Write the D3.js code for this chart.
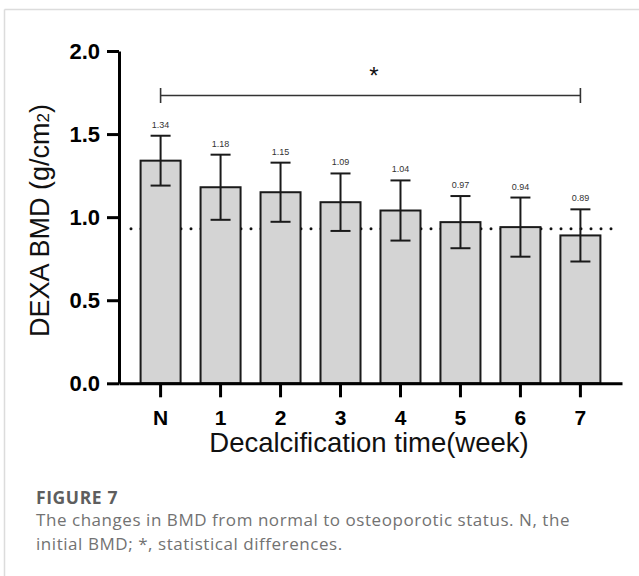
<!DOCTYPE html>
<html lang="en">
<head>
    <meta charset="UTF-8">
    <title>DEXA BMD by decalcification time</title>
    <script src="https://d3js.org/d3.v7.min.js"></script>
    <style>
        body {
            margin: 0;
            padding: 0;
            background-color: white;
        }
        svg text {
            font-family: 'Liberation Sans', Arial, sans-serif;
        }
        .caption-title {
            font-family: 'Open Sans', sans-serif !important;
            font-weight: 700;
            fill: #5e5e5e;
            letter-spacing: 0.6px;
        }
        .caption-line {
            font-family: 'Open Sans', sans-serif !important;
            fill: #727272;
            letter-spacing: 0.55px;
        }
    </style>
</head>
<body>
    <div id="chart"></div>

    <script>
        // data
        const weeks = ["N", "1", "2", "3", "4", "5", "6", "7"];
        const meanBMD = [1.34, 1.18, 1.15, 1.09, 1.04, 0.97, 0.94, 0.89];
        const sdBMD = [0.15, 0.196, 0.178, 0.173, 0.181, 0.157, 0.178, 0.157];
        const yTicks = [0, 0.5, 1.0, 1.5, 2.0];
        const thresholdBMD = 0.93; // dotted reference line
        const sigFrom = "N", sigTo = "7";

        const width = 639, height = 576;

        const svg = d3.select("#chart").append("svg")
            .attr("width", width)
            .attr("height", height);

        // light frame around the figure
        svg.append("line")
            .attr("x1", 4.5).attr("x2", width).attr("y1", 9.5).attr("y2", 9.5)
            .attr("stroke", "#dcdcdc").attr("stroke-width", 1.5);
        svg.append("line")
            .attr("x1", 4.5).attr("x2", 4.5).attr("y1", 9.5).attr("y2", height)
            .attr("stroke", "#dcdcdc").attr("stroke-width", 1.5);

        const x = d3.scaleBand()
            .domain(weeks)
            .range([119, 622])
            .paddingInner(0.333)
            .paddingOuter(0.36);

        const y = d3.scaleLinear()
            .domain([0, 2])
            .range([383.3, 51]);

        // dotted threshold line (behind the bars)
        svg.append("line")
            .attr("x1", 131).attr("x2", 612)
            .attr("y1", y(thresholdBMD)).attr("y2", y(thresholdBMD))
            .attr("stroke", "#111")
            .attr("stroke-width", 3)
            .attr("stroke-linecap", "round")
            .attr("stroke-dasharray", "0 10");

        // bars
        svg.selectAll("rect.bar")
            .data(weeks)
            .join("rect")
            .attr("class", "bar")
            .attr("x", d => x(d))
            .attr("width", x.bandwidth())
            .attr("y", (d, i) => y(meanBMD[i]))
            .attr("height", (d, i) => y(0) - y(meanBMD[i]))
            .attr("fill", "#d4d4d4")
            .attr("stroke", "#1a1a1a")
            .attr("stroke-width", 2);

        // error bars
        const capW = 20;
        const err = svg.append("g")
            .attr("stroke", "#1a1a1a")
            .attr("stroke-width", 2);
        weeks.forEach((w, i) => {
            const cx = x(w) + x.bandwidth() / 2;
            const top = y(meanBMD[i] + sdBMD[i]);
            const bot = y(meanBMD[i] - sdBMD[i]);
            err.append("line").attr("x1", cx).attr("x2", cx).attr("y1", top).attr("y2", bot);
            err.append("line").attr("x1", cx - capW / 2).attr("x2", cx + capW / 2).attr("y1", top).attr("y2", top);
            err.append("line").attr("x1", cx - capW / 2).attr("x2", cx + capW / 2).attr("y1", bot).attr("y2", bot);
        });

        // value labels above the error bars
        svg.selectAll("text.val")
            .data(weeks)
            .join("text")
            .attr("class", "val")
            .attr("x", d => x(d) + x.bandwidth() / 2)
            .attr("y", (d, i) => y(meanBMD[i] + sdBMD[i]) - 8)
            .attr("text-anchor", "middle")
            .attr("font-size", 9)
            .attr("fill", "#333")
            .text((d, i) => meanBMD[i].toFixed(2));

        // x axis
        const xAxis = svg.append("g")
            .attr("transform", `translate(0,${y(0)})`)
            .call(d3.axisBottom(x).tickSize(14).tickSizeOuter(0).tickPadding(12.7));
        xAxis.select(".domain").attr("stroke", "#000").attr("stroke-width", 3);
        xAxis.selectAll(".tick line").attr("stroke", "#000").attr("stroke-width", 3);
        xAxis.selectAll(".tick text")
            .attr("font-size", 21)
            .attr("font-weight", "bold")
            .attr("fill", "#000")
            .style("font-family", "'Liberation Sans', Arial, sans-serif");

        // y axis
        const yAxis = svg.append("g")
            .attr("transform", "translate(119,0)")
            .call(d3.axisLeft(y).tickValues(yTicks).tickFormat(d3.format(".1f"))
                .tickSize(12).tickSizeOuter(0).tickPadding(7));
        yAxis.select(".domain").attr("stroke", "#000").attr("stroke-width", 3);
        yAxis.selectAll(".tick line").attr("stroke", "#000").attr("stroke-width", 3);
        yAxis.selectAll(".tick text")
            .attr("font-size", 22)
            .attr("font-weight", "bold")
            .attr("fill", "#000")
            .style("font-family", "'Liberation Sans', Arial, sans-serif");

        // axis titles
        svg.append("text")
            .attr("x", 369)
            .attr("y", 452)
            .attr("text-anchor", "middle")
            .attr("font-size", 27.5)
            .attr("fill", "#111")
            .text("Decalcification time(week)");

        const yTitle = svg.append("text")
            .attr("transform", "translate(49,220.5) rotate(-90)")
            .attr("text-anchor", "middle")
            .attr("font-size", 27)
            .attr("fill", "#111");
        yTitle.append("tspan").text("DEXA BMD (g/cm");
        yTitle.append("tspan").attr("font-size", 17).text("2");
        yTitle.append("tspan").text(")");

        // significance bracket
        const bx1 = x(sigFrom) + x.bandwidth() / 2;
        const bx2 = x(sigTo) + x.bandwidth() / 2;
        const by = 95.5;
        const br = svg.append("g").attr("stroke", "#333").attr("stroke-width", 1.6);
        br.append("line").attr("x1", bx1).attr("x2", bx2).attr("y1", by).attr("y2", by);
        br.append("line").attr("x1", bx1).attr("x2", bx1).attr("y1", by - 7.5).attr("y2", by + 7.5);
        br.append("line").attr("x1", bx2).attr("x2", bx2).attr("y1", by - 7.5).attr("y2", by + 7.5);
        svg.append("text")
            .attr("x", 374)
            .attr("y", 84)
            .attr("text-anchor", "middle")
            .attr("font-size", 24)
            .attr("fill", "#111")
            .text("*");

        // caption
        svg.append("text")
            .attr("class", "caption-title")
            .attr("x", 36)
            .attr("y", 504)
            .attr("font-size", 17.5)
            .text("FIGURE 7");
        svg.append("text")
            .attr("class", "caption-line")
            .attr("x", 36)
            .attr("y", 526)
            .attr("font-size", 17)
            .text("The changes in BMD from normal to osteoporotic status. N, the");
        svg.append("text")
            .attr("class", "caption-line")
            .attr("x", 36)
            .attr("y", 550)
            .attr("font-size", 17)
            .text("initial BMD; *, statistical differences.");
    </script>
</body>
</html>
